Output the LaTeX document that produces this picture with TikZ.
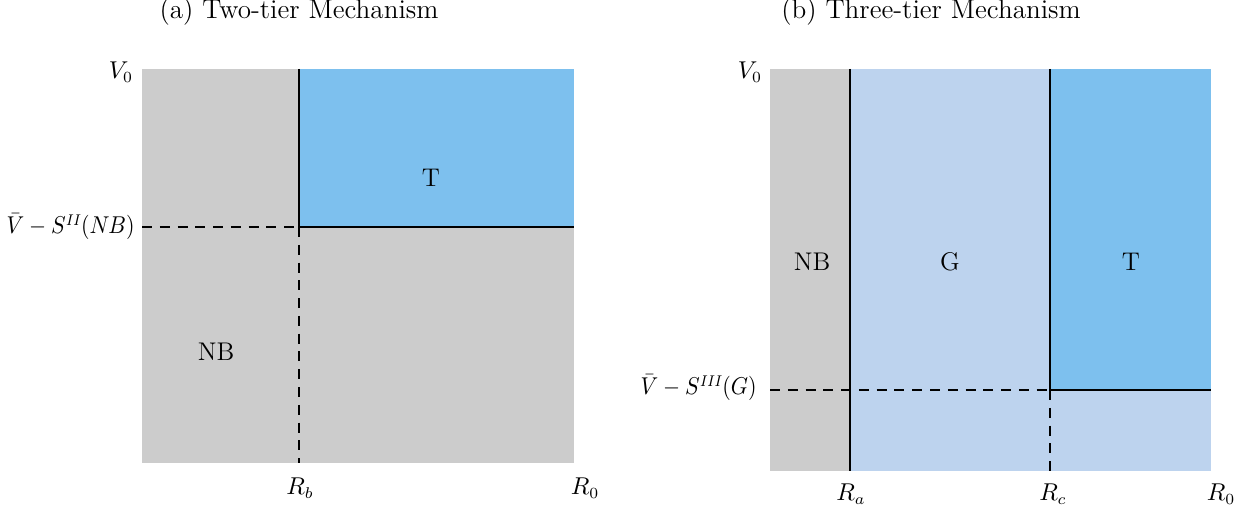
\documentclass[tikz,border=0pt]{standalone}
\usepackage{amsmath}
\definecolor{gr}{HTML}{CCCCCC}
\definecolor{dk}{HTML}{7DC0EE}
\definecolor{lt}{HTML}{BDD3EE}
\begin{document}
\begin{tikzpicture}[x=0.45pt,y=-0.45pt,
  solidline/.style={line width=0.9pt,black},
  dashline/.style={line width=0.9pt,black,dash pattern=on 4.5pt off 3.5pt},
  lab/.style={inner sep=0pt,font=\fontsize{10.5}{12}\selectfont},
  longlab/.style={inner sep=0pt,font=\fontsize{10.5}{12}\selectfont},
  reg/.style={inner sep=0pt,font=\fontsize{11.5}{13}\selectfont},
  ttl/.style={inner sep=0pt,font=\fontsize{12.2}{14}\selectfont}]
\useasboundingbox (0,0) rectangle (1250,508);
% ---------- panel (a)
\node[ttl] (ta) at (299,12) {(a) Two-tier Mechanism};
\fill[gr] (142,69) rectangle (574,463);
\fill[dk] (299,69) rectangle (574,227);
\coordinate (a1) at (299,69);
\coordinate (a2) at (299,227);
\coordinate (a3) at (574,227);
\coordinate (a4) at (142,227);
\coordinate (a5) at (299,463);
\draw[solidline] (a1) -- (a2) -- (a3);
\draw[dashline] (a4) -- (a2);
\draw[dashline] (a2) -- (a5);
\node[longlab,anchor=east] (sa) at (135,227) {\scalebox{0.9}[1]{$\bar V - S^{I\mkern-1mu I}\mkern-1mu(N\mkern-1mu B)$}};
\node[lab] (va) at (121,72) {$V_0$};
\node[lab] (rb) at (300,488) {$R_b$};
\node[lab] (r0a) at (585,488) {$R_0$};
\node[reg] (Ta) at (431,178) {T};
\node[reg] (NBa) at (216,352) {NB};
% ---------- panel (b)
\node[ttl] (tb) at (931,12) {(b) Three-tier Mechanism};
\fill[gr] (770,69) rectangle (850,471);
\fill[lt] (850,69) rectangle (1211,471);
\fill[dk] (1050,69) rectangle (1211,390);
\coordinate (b1) at (850,69);
\coordinate (b2) at (850,471);
\coordinate (b3) at (1050,69);
\coordinate (b4) at (1050,390);
\coordinate (b5) at (1211,390);
\coordinate (b6) at (770,390);
\coordinate (b7) at (1050,471);
\draw[solidline] (b1) -- (b2);
\draw[solidline] (b3) -- (b4) -- (b5);
\draw[dashline] (b6) -- (b4);
\draw[dashline] (b4) -- (b7);
\node[longlab,anchor=east] (sb) at (757,388) {\scalebox{0.9}[1]{$\bar V - S^{I\mkern-1mu I\mkern-1mu I}\mkern-1mu(G)$}};
\node[lab] (vb) at (750,72) {$V_0$};
\node[lab] (ra) at (851,494) {$R_a$};
\node[lab] (rc) at (1053,494) {$R_c$};
\node[lab] (r0b) at (1221,494) {$R_0$};
\node[reg] (NBb) at (812,262) {NB};
\node[reg] (Gb) at (950,262) {G};
\node[reg] (Tb) at (1131,262) {T};
\end{tikzpicture}
\end{document}
